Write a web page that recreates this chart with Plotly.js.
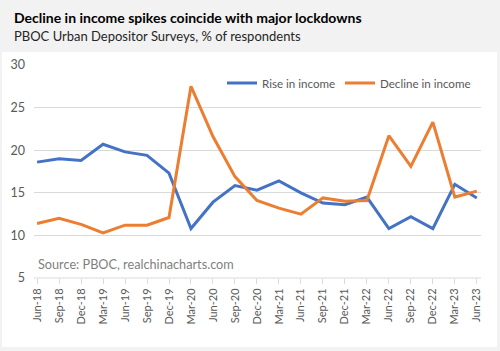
<!DOCTYPE html>
<html>
<head>
<meta charset="utf-8">
<script src="https://cdn.plot.ly/plotly-3.0.1.min.js"></script>
<style>html,body{margin:0;padding:0;background:#fff;}#chart{width:500px;height:351px;}</style>
</head>
<body>
<div id="chart"></div>
<script>
const quarters = ["Jun-18","Sep-18","Dec-18","Mar-19","Jun-19","Sep-19","Dec-19","Mar-20","Jun-20","Sep-20","Dec-20","Mar-21","Jun-21","Sep-21","Dec-21","Mar-22","Jun-22","Sep-22","Dec-22","Mar-23","Jun-23"];
const riseInIncome = [18.6,19.0,18.8,20.7,19.8,19.4,17.3,10.8,13.9,15.85,15.3,16.4,15.0,13.8,13.6,14.5,10.8,12.2,10.8,16.0,14.4];
const declineInIncome = [11.4,12.0,11.3,10.3,11.2,11.2,12.1,27.5,21.6,16.9,14.1,13.2,12.5,14.4,14.0,14.1,21.7,18.1,23.3,14.5,15.2];
const yTicks = [5,10,15,20,25,30];

const FONT = "Lato, 'Open Sans', sans-serif";
const traces = [
  {x: quarters, y: riseInIncome, name: "Rise in income", type: "scatter", mode: "lines",
   line: {color: "#4472C4", width: 3}, legend: "legend"},
  {x: quarters, y: declineInIncome, name: "Decline in income", type: "scatter", mode: "lines",
   line: {color: "#ED7D31", width: 3}, legend: "legend2"}
];
const legendBase = {orientation: "h", xanchor: "left", y: 0.915, yanchor: "middle",
  bgcolor: "rgba(0,0,0,0)", font: {size: 11.6, color: "#595959", family: FONT}};
const layout = {
  width: 500, height: 351,
  margin: {l: 34, r: 19, t: 65, b: 73},
  paper_bgcolor: "#f2f2f2",
  plot_bgcolor: "rgba(0,0,0,0)",
  font: {family: FONT, color: "#595959", size: 12},
  showlegend: true,
  legend: Object.assign({}, legendBase, {x: (222-34)/447}),
  legend2: Object.assign({}, legendBase, {x: (340-34)/447}),
  xaxis: {type: "category", range: [-0.14, 20.19], showgrid: false, showline: false, zeroline: false,
    ticks: "outside", ticklen: 5, tickcolor: "#d9d9d9", tickwidth: 1,
    tickangle: -90, tickfont: {size: 11, color: "#595959"}, fixedrange: true},
  yaxis: {range: [5, 30], tickvals: yTicks, showgrid: true, gridcolor: "#d9d9d9", gridwidth: 1,
    zeroline: false, showline: false, ticks: "", tickfont: {size: 12.5, color: "#595959"},
    ticklabelstandoff: 8},
  shapes: [
    {type: "rect", xref: "paper", yref: "paper", layer: "below",
     x0: (2-34)/447, x1: (497-34)/447, y0: (278-347)/213, y1: (278-52)/213,
     fillcolor: "#ffffff", line: {width: 0}},
    {type: "line", xref: "paper", yref: "paper", layer: "above",
     x0: 0, x1: 1, y0: 0, y1: 0, line: {color: "#d9d9d9", width: 1}}
  ],
  annotations: [
    {text: "<b>Decline in income spikes coincide with major lockdowns</b>", xref: "paper", yref: "paper",
     x: (12-34)/447, y: (278-17)/213, xanchor: "left", yanchor: "middle", showarrow: false,
     font: {size: 14, color: "#000000", family: FONT}},
    {text: "PBOC Urban Depositor Surveys, % of respondents", xref: "paper", yref: "paper",
     x: (12-34)/447, y: (278-36)/213, xanchor: "left", yanchor: "middle", showarrow: false,
     font: {size: 13, color: "#262626", family: FONT}},
    {text: "Source: PBOC, realchinacharts.com", xref: "paper", yref: "paper",
     x: (36-34)/447, y: (278-264)/213, xanchor: "left", yanchor: "middle", showarrow: false,
     font: {size: 12.7, color: "#7f7f7f", family: FONT}}
  ]
};
Plotly.newPlot("chart", traces, layout, {displayModeBar: false, staticPlot: true});
</script>
</body>
</html>
